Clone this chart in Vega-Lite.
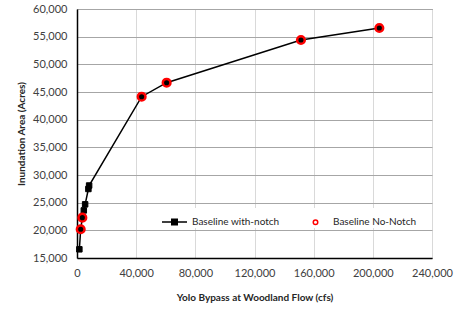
{
  "$schema": "https://vega.github.io/schema/vega-lite/v6.json",
  "width": 355,
  "height": 249,
  "autosize": {"type": "none"},
  "padding": {"left": 77, "top": 9, "right": 39, "bottom": 55},
  "background": "white",
  "config": {
    "font": "Lato",
    "view": {"stroke": "#595959", "strokeWidth": 1},
    "axis": {"labelFont": "Lato", "titleFont": "Lato", "labelColor": "#404040", "titleColor": "#262626", "ticks": false, "labelOverlap": false, "labelFlush": false}
  },
  "data": {
    "values": [
      {"series": "Baseline with-notch", "flow": 1600, "area": 16570},
      {"series": "Baseline with-notch", "flow": 2500, "area": 20190},
      {"series": "Baseline with-notch", "flow": 3600, "area": 22290},
      {"series": "Baseline with-notch", "flow": 4600, "area": 23600},
      {"series": "Baseline with-notch", "flow": 5500, "area": 24700},
      {"series": "Baseline with-notch", "flow": 7700, "area": 27470},
      {"series": "Baseline with-notch", "flow": 8200, "area": 28100},
      {"series": "Baseline with-notch", "flow": 43700, "area": 44150},
      {"series": "Baseline with-notch", "flow": 60600, "area": 46680},
      {"series": "Baseline with-notch", "flow": 151400, "area": 54400},
      {"series": "Baseline with-notch", "flow": 204400, "area": 56570},
      {"series": "Baseline No-Notch", "flow": 2500, "area": 20190},
      {"series": "Baseline No-Notch", "flow": 3600, "area": 22290},
      {"series": "Baseline No-Notch", "flow": 43700, "area": 44150},
      {"series": "Baseline No-Notch", "flow": 60600, "area": 46680},
      {"series": "Baseline No-Notch", "flow": 151400, "area": 54400},
      {"series": "Baseline No-Notch", "flow": 204400, "area": 56570}
    ]
  },
  "encoding": {
    "x": {
      "field": "flow", "type": "quantitative",
      "scale": {"domain": [0, 240000], "nice": false},
      "axis": {
        "values": [0, 40000, 80000, 120000, 160000, 200000, 240000],
        "format": ",d", "title": "Yolo Bypass at Woodland Flow (cfs)",
        "labelFontSize": 11, "labelPadding": 9, "titleFontSize": 10, "titleFontWeight": "bold", "titlePadding": 14,
        "domainColor": "black", "domainWidth": 1.5,
        "gridColor": "#d9d9d9", "gridWidth": 1
      }
    },
    "y": {
      "field": "area", "type": "quantitative",
      "scale": {"domain": [15000, 60000], "nice": false, "zero": false},
      "axis": {
        "values": [15000, 20000, 25000, 30000, 35000, 40000, 45000, 50000, 55000, 60000],
        "format": ",d", "title": "Inundation Area (Acres)",
        "labelFontSize": 11, "labelPadding": 10, "titleFontSize": 10, "titleFontWeight": "bold", "titlePadding": 6,
        "domainColor": "black", "domainWidth": 1.5,
        "gridColor": "#a6a6a6", "gridWidth": 1
      }
    }
  },
  "layer": [
    {
      "transform": [{"filter": "datum.series == 'Baseline with-notch'"}],
      "mark": {"type": "line", "color": "black", "strokeWidth": 1.5}
    },
    {
      "transform": [{"filter": "datum.series == 'Baseline with-notch'"}],
      "mark": {"type": "point", "shape": "square", "filled": true, "size": 30, "strokeWidth": 1, "opacity": 1},
      "encoding": {
        "fill": {
          "field": "series", "type": "nominal",
          "scale": {"domain": ["Baseline with-notch", "Baseline No-Notch"], "range": ["black", "white"]},
          "legend": {
            "title": null, "orient": "none", "legendX": 84, "legendY": 199, "direction": "horizontal",
            "fillColor": "white", "padding": 0, "labelFont": "Lato", "labelFontSize": 10, "labelColor": "#262626",
            "symbolSize": 625, "symbolStrokeWidth": 1.5, "columnPadding": 22, "labelOffset": 4, "symbolOpacity": 1
          }
        },
        "stroke": {
          "field": "series", "type": "nominal",
          "scale": {"domain": ["Baseline with-notch", "Baseline No-Notch"], "range": ["black", "red"]},
          "legend": {
            "title": null, "orient": "none", "legendX": 84, "legendY": 199, "direction": "horizontal",
            "fillColor": "white", "padding": 0, "labelFont": "Lato", "labelFontSize": 10, "labelColor": "#262626",
            "symbolSize": 625, "symbolStrokeWidth": 1.5, "columnPadding": 22, "labelOffset": 4, "symbolOpacity": 1
          }
        }
      }
    },
    {
      "transform": [{"filter": "datum.series == 'Baseline No-Notch'"}],
      "mark": {"type": "point", "filled": false, "size": 1800, "strokeWidth": 2.5, "opacity": 1},
      "encoding": {
        "stroke": {"field": "series", "type": "nominal"},
        "shape": {
          "field": "series", "type": "nominal",
          "scale": {"domain": ["Baseline with-notch", "Baseline No-Notch"], "range": ["M-1,0H1M-0.22,-0.22H0.22V0.22H-0.22Z", "M0.18,0A0.18,0.18 0 1,1 -0.18,0A0.18,0.18 0 1,1 0.18,0Z"]},
          "legend": {
            "title": null, "orient": "none", "legendX": 84, "legendY": 199, "direction": "horizontal",
            "fillColor": "white", "padding": 0, "labelFont": "Lato", "labelFontSize": 10, "labelColor": "#262626",
            "symbolSize": 625, "symbolStrokeWidth": 1.5, "columnPadding": 22, "labelOffset": 4, "symbolOpacity": 1
          }
        }
      }
    }
  ]
}
